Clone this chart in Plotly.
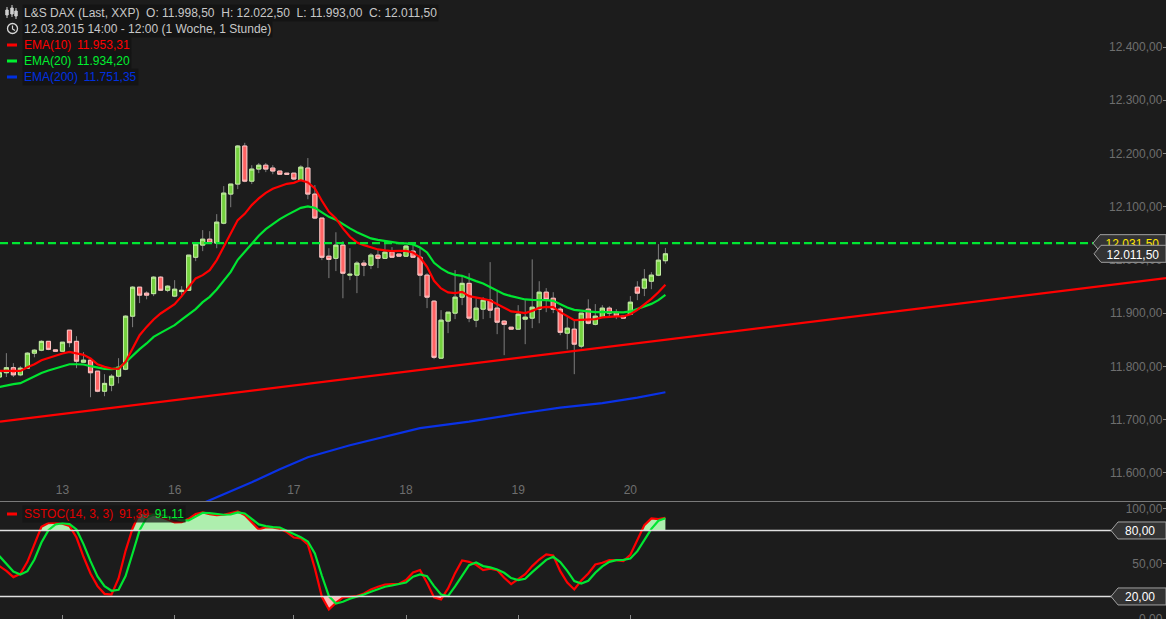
"""L&S DAX hourly chart with EMA lines and slow stochastic, dark theme."""
import numpy as np
import plotly.graph_objects as go

WIDTH, HEIGHT = 1166, 619
PANE_SPLIT = 501  # pixel row between price pane and stochastic pane
BG = "#1c1c1c"
FONT = "Liberation Sans"

opens = [11780, 11788, 11797.5, 11784, 11796.6, 11824.8, 11830.4, 11847, 11831, 11828.5,
         11868, 11847, 11807.8, 11811.6, 11791, 11753.3, 11764.6, 11781.5, 11794.7, 11894.3,
         11948.8, 11937.6, 11936.6, 11967.6, 11943, 11932, 11940.5, 11943, 12005, 12027.8,
         12039, 12031.6, 12069, 12123.7, 12142.5, 12214, 12148, 12170.7, 12178, 12172.6,
         12167, 12163, 12163, 12150, 12172.6, 12123.7, 12078.6, 12007, 12003, 12027.8,
         11971.4, 11971.4, 11994, 11990, 12009, 12003, 12014.6, 12011, 12007, 12016.5,
         12005, 11971.4, 11922.5, 11815.4, 11885, 11900, 11930, 11956, 11886.8, 11907.5,
         11924.4, 11909.4, 11885, 11873.6, 11869.9, 11888.7, 11890.6, 11907.5, 11939.4, 11928,
         11907.5, 11862.4, 11869.9, 11838, 11907.5, 11879, 11892.4, 11909.4, 11901.8, 11894.3,
         11898, 11948.8, 11947, 11960, 11971.4, 11998.5]
closes = [11788, 11797.5, 11784, 11796.6, 11824.8, 11830.4, 11847, 11832, 11828.5, 11845.4,
          11844.5, 11809.7, 11811.6, 11788, 11753.3, 11768, 11781.5, 11798.4, 11894.3, 11948.8,
          11933.8, 11933.8, 11967.6, 11943, 11950.7, 11945, 11943, 12009, 12029.7, 12039,
          12031.6, 12071, 12125.6, 12142.5, 12214, 12148, 12170.7, 12178, 12170.7, 12167,
          12161, 12161, 12152, 12174.4, 12123.7, 12078.6, 12005, 12001, 12027.8, 11975,
          11973, 11994, 11990, 12009, 12003, 12014.6, 12005, 12007, 12026, 12005,
          11971.4, 11930, 11817, 11886.8, 11901.8, 11930, 11956, 11890.6, 11909.4, 11924.4,
          11905.6, 11883, 11879, 11869.9, 11898, 11892.4, 11911.2, 11939.4, 11926, 11907.5,
          11864, 11871.8, 11841.7, 11900, 11881, 11894.3, 11909.4, 11900, 11894.3, 11890.6,
          11920.6, 11937.6, 11964, 11971.4, 11999.6, 12011.5]
highs = [11788, 11824.8, 11806, 11800.3, 11826.6, 11832, 11849, 11847, 11831, 11845.4,
         11868, 11856.7, 11826.6, 11815.4, 11791, 11785.3, 11785.3, 11815.4, 11896, 11950.7,
         11948.8, 11941, 11969.5, 11969.5, 11952.6, 11962, 11950.7, 12009, 12033.4, 12056,
         12054, 12086, 12138.7, 12142.5, 12216, 12220, 12178, 12182, 12182, 12178,
         12167, 12163, 12163, 12178, 12191.4, 12140.6, 12078.6, 12022, 12052, 12035,
         12022, 11997.7, 11999.6, 12012.8, 12018.4, 12033.4, 12024, 12011, 12027.8, 12029.7,
         12022, 11975, 11924.4, 11905.6, 11901.8, 11980.8, 11969.5, 11975, 11928, 11930,
         11995.8, 11943, 11886.8, 11873.6, 11915, 11924.4, 12001, 11960, 11947, 11939.4,
         11911.2, 11892.4, 11886.8, 11900, 11926, 11917, 11915, 11913, 11907.5, 11894.3,
         11932, 11960, 11982.7, 11977, 12029.7, 12022.5]
lows = [11762.7, 11780, 11780, 11781.5, 11796.6, 11817, 11828.5, 11830.4, 11828.5, 11828.5,
        11836, 11796.6, 11807.8, 11742, 11751.4, 11743.9, 11753.3, 11768, 11792.8, 11873.6,
        11918.8, 11926, 11932, 11943, 11939.4, 11930, 11930, 11943, 11997.7, 12016.5,
        12031.6, 12022, 12067, 12099, 12133, 12146, 12142.5, 12163, 12165, 12161,
        12161, 12161, 12150, 12148, 12114, 12076.7, 11999.6, 11965.8, 11979, 11928,
        11962, 11937.6, 11969.5, 11982.7, 11984.6, 12003, 12005, 12007, 12007, 12005,
        11932, 11909.4, 11813.5, 11815.4, 11862.4, 11888.7, 11915, 11883, 11873.6, 11888.7,
        11890.6, 11860.5, 11821, 11869.9, 11869.9, 11841.7, 11871.8, 11881, 11901.8, 11900,
        11858.6, 11832, 11785.3, 11834, 11879, 11877, 11892.4, 11892.4, 11888.7, 11890.6,
        11898, 11924.4, 11932, 11945, 11969.5, 11993]

ema10 = [11791.5, 11791.5, 11791.5, 11791.5, 11798.4, 11804, 11811.6, 11815.9, 11819.1, 11824.2,
         11827.2, 11824.8, 11821.6, 11814.8, 11804, 11799, 11796, 11795.2, 11808.4, 11833.6,
         11858.6, 11874.2, 11888.1, 11899.4, 11907.5, 11916.9, 11931.9, 11949.4, 11965.2, 11971.4,
         11980.8, 11999.6, 12024.6, 12051.7, 12074.8, 12086.6, 12103, 12115.6, 12126.1, 12133.6,
         12138.7, 12143, 12144.9, 12150, 12145.7, 12134.4, 12111.1, 12090.4, 12078, 12059.2,
         12043.4, 12032.9, 12027.8, 12023.5, 12019.7, 12017.8, 12016.5, 12017.1, 12017.1, 12014.1,
         12004.7, 11987, 11960.7, 11946.4, 11938.9, 11937.6, 11940, 11932, 11928.7, 11926.8,
         11923.8, 11916.9, 11909.4, 11903.2, 11901.8, 11900, 11904.3, 11909.9, 11911.8, 11911.2,
         11901.8, 11893.8, 11886.8, 11887.4, 11888.1, 11888.7, 11891.9, 11893, 11893.8, 11893.8,
         11898.1, 11906.2, 11916.9, 11926.8, 11939.4, 11953.31]
ema20 = [11761.4, 11764.6, 11766.5, 11768.4, 11774.6, 11781.5, 11787.7, 11792.2, 11796, 11800.9,
         11804, 11804, 11803.5, 11800.3, 11797.1, 11795.2, 11794.7, 11796.6, 11807.3, 11820.4,
         11832.3, 11843, 11855.4, 11862.9, 11869.9, 11877.4, 11887.7, 11898.1, 11907.5, 11920.6,
         11930.6, 11944.5, 11960.7, 11977.6, 12000.2, 12015.2, 12030.2, 12045.3, 12057.9, 12067.8,
         12076.7, 12084.2, 12090.4, 12097.9, 12100.6, 12097.9, 12089.3, 12081, 12075.4, 12066.7,
         12059.2, 12052.2, 12046.6, 12040.4, 12037.8, 12035.3, 12032.9, 12031.6, 12031, 12029.1,
         12023.5, 12014.1, 11994.5, 11984, 11976.5, 11972, 11970.1, 11964.4, 11960.1, 11955.8,
         11949.4, 11942.6, 11935.7, 11931.9, 11928.7, 11925.7, 11925, 11925, 11924.4, 11923.1,
         11916.9, 11910.7, 11906.2, 11904.3, 11902.4, 11901.8, 11901.8, 11901.8, 11901.3, 11901.3,
         11903.2, 11907.5, 11912.6, 11917.4, 11924.4, 11934.2]
ema200_x = [29, 32, 36, 40, 44, 50, 60, 67, 74, 80, 86, 91, 95]
ema200 = [11542.8, 11559.7, 11582.2, 11606.7, 11629.2, 11651.8, 11683.8, 11696, 11711, 11722.3,
          11730.8, 11741.1, 11751.35]

trend_x = [0.09, 166.4]
trend_y = [11696, 11965.8]
level_x = [0.09, 156.7]
level_y = [12031.5, 12031.5]

stoch_k = [47.6, 43.3, 37.6, 40.6, 51.5, 67.6, 83.3, 86.7, 87, 86.1,
           84.2, 73.6, 56.1, 40.9, 29.4, 22.4, 21.8, 36.4, 61.5, 81.8,
           96.1, 95.5, 94.3, 92.4, 89.7, 87.3, 87.6, 90.6, 94.9, 96.4,
           94.9, 94, 94.3, 96.1, 97.3, 94, 87.6, 80.9, 83, 82.7,
           81.5, 78.5, 73.6, 72.7, 67.3, 45.5, 19.7, 8.2, 14.2, 19.1,
           19.7, 20.3, 22.7, 26.4, 28.8, 30.9, 31.2, 31.5, 34.9, 41.8,
           44, 32.4, 19.1, 17.3, 27.3, 41.2, 52.7, 51.5, 48.8, 44,
           45.2, 44, 37, 31.2, 35.8, 40.3, 47.6, 53.6, 58.2, 57.3,
           43, 32.7, 26.4, 34.5, 40.9, 49.1, 50.6, 53, 53, 52.1,
           57.9, 72.1, 84.9, 90.9, 90.3, 91.39]
stoch_d = [56.7, 49.7, 42.7, 40, 43, 53.6, 69.1, 80.3, 85.5, 86.7,
           85.8, 80.9, 67.6, 52.1, 38.2, 29.4, 25.2, 26.1, 38.5, 59.1,
           80.3, 91.5, 94.5, 94.3, 92.7, 90.6, 89.1, 89.1, 92.7, 96.1,
           95.8, 94.9, 94.3, 94.5, 96.4, 95.5, 90.9, 85.5, 84, 83,
           82.7, 80, 77, 73.9, 70, 59.1, 38.8, 20.3, 13.6, 15.2,
           17.9, 19.7, 21.8, 24.2, 26.4, 28.8, 30, 31.2, 32.7, 37.9,
           40, 38.5, 29.4, 21.8, 20.3, 29.1, 39.4, 48.5, 50.9, 47.6,
           46.4, 44.5, 41.5, 36.7, 34.9, 36.1, 42.1, 47.9, 53.3, 56.1,
           51.2, 43.3, 34, 31.8, 34.2, 41.5, 47.3, 51.5, 53, 53.3,
           54.5, 61.2, 71.8, 81.5, 88.8, 91.11]

price_ticks = [11600, 11700, 11800, 11900, 12000, 12100, 12200, 12300, 12400]
price_labels = ["11.600,00", "11.700,00", "11.800,00", "11.900,00", "12.000,00",
                "12.100,00", "12.200,00", "12.300,00", "12.400,00"]
stoch_ticks = [0, 50, 100]
stoch_labels = ["0,00", "50,00", "100,00"]
stoch_bands = [80, 20]
day_ticks = [9, 25, 42, 58, 74, 90]
day_labels = ["13", "16", "17", "18", "19", "20"]

header_lines = [
    "L&S DAX (Last, XXP)\u00a0\u00a0O: 11.998,50\u00a0\u00a0H: 12.022,50\u00a0\u00a0L: 11.993,00\u00a0\u00a0C: 12.011,50",
    "12.03.2015 14:00 - 12:00 (1 Woche, 1 Stunde)",
]
ema_legend = [("EMA(10)\u00a0\u200911.953,31", "#ff0000"),
              ("EMA(20)\u00a0\u200911.934,20", "#00f030"),
              ("EMA(200)\u00a0\u200911.751,35", "#0030e0")]

bars = list(range(len(opens)))
X_RANGE = [0.09, 166.4]
PRICE_RANGE = [11547, 12488.4]
STOCH_RANGE = [-0.5, 106.8]

RED = "#ff0000"
GREEN = "#00e632"
BLUE = "#0a32e6"


def px(x):
    return x / WIDTH


def py(y):
    return 1 - y / HEIGHT


def stoch_frac(value):
    # paper fraction of a stochastic value inside the lower pane
    top = py(PANE_SPLIT)
    return top * (value - STOCH_RANGE[0]) / (STOCH_RANGE[1] - STOCH_RANGE[0])


fig = go.Figure()

# wicks
fig.add_trace(go.Candlestick(
    x=bars, open=opens, high=highs, low=lows, close=closes,
    increasing={"line": {"color": "#7d7d7d", "width": 1}, "fillcolor": "#7d7d7d"},
    decreasing={"line": {"color": "#7d7d7d", "width": 1}, "fillcolor": "#7d7d7d"},
    whiskerwidth=0, showlegend=False,
))
# bodies with the lighter edge
fig.add_trace(go.Candlestick(
    x=bars, open=opens, close=closes,
    high=np.maximum(opens, closes), low=np.minimum(opens, closes),
    increasing={"line": {"color": "#c4eea4", "width": 1}, "fillcolor": "#74d13e"},
    decreasing={"line": {"color": "#ffc4c4", "width": 1}, "fillcolor": "#ff6464"},
    whiskerwidth=0, showlegend=False,
))
fig.add_trace(go.Scatter(x=bars, y=ema20, mode="lines", line={"color": GREEN, "width": 2.2}))
fig.add_trace(go.Scatter(x=bars, y=ema10, mode="lines", line={"color": RED, "width": 2.2}))
fig.add_trace(go.Scatter(x=ema200_x, y=ema200, mode="lines", line={"color": BLUE, "width": 2.2}))
fig.add_trace(go.Scatter(x=trend_x, y=trend_y, mode="lines", line={"color": RED, "width": 2.2}))
fig.add_trace(go.Scatter(x=level_x, y=level_y, mode="lines",
                         line={"color": GREEN, "width": 2.3, "dash": "8px,4px"}))

# shaded parts of the stochastic, clipped by axes that only cover >80 and <20
for axis, band, color in [("y2", 80, "#aeeeae"), ("y3", 20, "#ffb4b4")]:
    fig.add_trace(go.Scatter(x=bars, y=[band] * len(bars), xaxis="x2", yaxis=axis,
                             mode="lines", line={"width": 0}))
    fig.add_trace(go.Scatter(x=bars, y=stoch_k, xaxis="x2", yaxis=axis, mode="lines",
                             line={"width": 0, "simplify": False},
                             fill="tonexty", fillcolor=color))
fig.add_trace(go.Scatter(x=bars, y=stoch_k, xaxis="x2", yaxis="y4", mode="lines",
                         line={"color": RED, "width": 2.2}))
fig.add_trace(go.Scatter(x=bars, y=stoch_d, xaxis="x2", yaxis="y4", mode="lines",
                         line={"color": GREEN, "width": 2.2}))

shapes = []
annotations = []


def add_text(x, y, text, color, bg=None, size=12, anchor="left"):
    annotations.append(dict(
        xref="paper", yref="paper", x=px(x), y=py(y), text=text, showarrow=False,
        xanchor=anchor, yanchor="middle", align="left",
        font={"family": FONT, "size": size, "color": color},
        bgcolor=bg, borderpad=1,
    ))


def add_swatch(y, color):
    shapes.append(dict(type="line", xref="paper", yref="paper", x0=px(7), x1=px(17),
                       y0=py(y), y1=py(y), line={"color": color, "width": 3}))


def add_tag(level, yref, left, text, color, pad):
    path = (f"M {px(left)},0 L {px(left + 7)},8.5 L {px(WIDTH)},8.5 "
            f"L {px(WIDTH)},-8.5 L {px(left + 7)},-8.5 Z")
    shapes.append(dict(type="path", xref="paper", yref=yref, ysizemode="pixel", yanchor=level,
                       path=path, fillcolor="#333333", line={"color": "#a0a0a0", "width": 1},
                       label=dict(text=text, textposition="middle right", padding=pad,
                                  font={"family": FONT, "size": 12, "color": color})))


# header block
add_text(22, 13, header_lines[0], "#c8c8c8", "#141414")
add_text(22, 29, header_lines[1], "#c8c8c8", "#141414")
for row, (text, color) in enumerate(ema_legend):
    add_text(22, 45 + 16 * row, text, color, "#141414")
    add_swatch(45 + 16 * row, color)
add_text(21.5, 514,
         f"SSTOC(14, 3, 3)\u00a0\u2009<span style='color:#e00000'>91,39</span>"
         f"\u00a0\u2009<span style='color:#00f030'>91,11</span>",
         "#e00000", "rgba(20,20,20,0.75)")
add_swatch(514, "#ff0000")

# candle icon
for cx, top, bottom in [(7, 10, 15), (12, 8, 14), (16, 11, 16)]:
    shapes.append(dict(type="line", xref="paper", yref="paper", x0=px(cx), x1=px(cx),
                       y0=py(top - 3), y1=py(bottom + 3), line={"color": "#d0d0d0", "width": 1}))
    shapes.append(dict(type="rect", xref="paper", yref="paper", x0=px(cx - 1.2), x1=px(cx + 1.2),
                       y0=py(top), y1=py(bottom), line={"color": "#d0d0d0", "width": 1},
                       fillcolor="#d0d0d0"))
# clock icon
shapes.append(dict(type="circle", xref="paper", yref="paper", x0=px(7.5), x1=px(17.5),
                   y0=py(23.5), y1=py(33.5), line={"color": "#d8d8d8", "width": 1.3}))
shapes.append(dict(type="path", xref="paper", yref="paper",
                   path=f"M {px(12.5)},{py(25.5)} L {px(12.5)},{py(29)} L {px(15)},{py(30.5)}",
                   line={"color": "#d8d8d8", "width": 1.2}))

# stochastic band lines
for band in stoch_bands:
    shapes.append(dict(type="line", xref="paper", yref="y4", x0=0, x1=px(1112), y0=band, y1=band,
                       line={"color": "#e0e0e0", "width": 1.5}))

add_tag(level_y[0], "y", 1093, "12.031,50", "#ffe600", 4)
add_tag(closes[-1], "y", 1094, "12.011,50", "#ffffff", 4)
add_tag(80, "y4", 1111, "80,00", "#ffffff", 8)
add_tag(20, "y4", 1111, "20,00", "#ffffff", 8)

grey_font = {"family": FONT, "size": 12, "color": "#6e6e6e"}
fig.update_layout(
    width=WIDTH, height=HEIGHT, autosize=False,
    margin={"l": 0, "r": 0, "t": 0, "b": 0},
    paper_bgcolor=BG, plot_bgcolor="rgba(0,0,0,0)",
    showlegend=False, hovermode=False, boxgap=0.15,
    shapes=shapes, annotations=annotations,
    xaxis=dict(domain=[0, 1], range=X_RANGE, anchor="y", rangeslider={"visible": False},
               automargin=False, showgrid=False, zeroline=False, showline=True,
               linecolor="#7a7a7a", linewidth=1, tickvals=day_ticks, ticktext=day_labels,
               ticks="", ticklabelposition="inside", ticklabelstandoff=4, tickfont=grey_font),
    xaxis2=dict(domain=[0, 1], range=X_RANGE, anchor="y4", automargin=False, showgrid=False,
                zeroline=False, tickvals=day_ticks, ticks="inside", ticklen=4, tickcolor="#8a8a8a",
                showticklabels=False),
    yaxis=dict(domain=[py(PANE_SPLIT), 1], range=PRICE_RANGE, anchor="x", side="right",
               automargin=False, showgrid=False, zeroline=False, tickvals=price_ticks,
               ticktext=price_labels, ticks="inside", ticklen=3, tickcolor="#8a8a8a",
               ticklabelposition="inside", ticklabeloverflow="allow", ticklabelstandoff=0,
               tickfont=grey_font),
    yaxis2=dict(domain=[stoch_frac(80), py(PANE_SPLIT)], range=[80, STOCH_RANGE[1]], anchor="x2",
                visible=False, automargin=False),
    yaxis3=dict(domain=[0, stoch_frac(20)], range=[STOCH_RANGE[0], 20], anchor="x2",
                visible=False, automargin=False),
    yaxis4=dict(domain=[0, py(PANE_SPLIT)], range=STOCH_RANGE, anchor="x2", side="right",
                automargin=False, showgrid=False, zeroline=False, tickvals=stoch_ticks,
                ticktext=stoch_labels, ticks="inside", ticklen=3, tickcolor="#8a8a8a",
                ticklabelposition="inside", ticklabeloverflow="allow", ticklabelstandoff=0,
                tickfont=grey_font),
)

fig.write_html("out.html", config={"displayModeBar": False},
               post_script="document.body.style.margin='0';")
